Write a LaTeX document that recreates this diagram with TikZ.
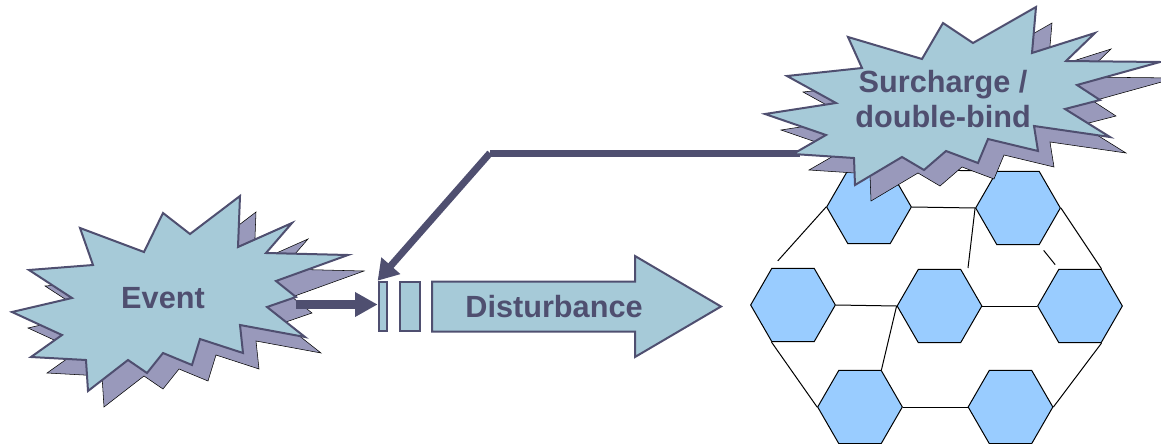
\documentclass[tikz,border=0pt]{standalone}
\usepackage{fontspec}
\setmainfont{Liberation Sans}
\usetikzlibrary{arrows.meta,shapes.geometric}
\definecolor{burstfill}{RGB}{166,202,216}
\definecolor{burstshade}{RGB}{153,153,187}
\definecolor{ink}{RGB}{79,79,112}
\definecolor{cellfill}{RGB}{153,204,255}

\begin{document}
\begin{tikzpicture}[x=0.75pt,y=-0.75pt]
\tikzstyle{cell}=[regular polygon,regular polygon sides=6,draw=black,line width=0.75pt,fill=cellfill,minimum size=63.5pt,inner sep=0pt]
\tikzstyle{link}=[black,line width=0.75pt]
\tikzstyle{burst}=[draw=ink,line width=1.5pt,fill=burstfill,line join=miter]
\tikzstyle{burstshadow}=[fill=burstshade]
\tikzstyle{bar}=[rectangle,draw=ink,line width=1.5pt,fill=burstfill,minimum height=37.2pt,inner sep=0pt]
\tikzstyle{label}=[text=ink,font=\fontsize{23}{26.25}\selectfont\bfseries,align=center]
\tikzstyle{heavy}=[ink,line width=5.25pt]
\useasboundingbox (0,0) rectangle (1161,443);
% network of cells
\node [cell] (h1) at (869,207) {};
\node [cell] (h2) at (1018,208) {};
\node [cell] (h3) at (793,305) {};
\node [cell] (h4) at (939.5,306) {};
\node [cell] (h5) at (1080,306) {};
\node [cell] (h6) at (860,407) {};
\node [cell] (h7) at (1010.5,407) {};
\coordinate (n2) at (968,268);
\draw [link] (h1.east) -- (h2.west);
\draw [link] (h1.60) -- (h2.120);
\draw [link,shorten >=7pt] (h1.west) -- (h3.120);
\draw [link] (h2.west) -- (n2);
\draw [link,shorten <=5pt,shorten >=4pt] (h2.300) -- (h5.120);
\draw [link] (h2.east) -- (h5.60);
\draw [link] (h3.east) -- (h4.west);
\draw [link] (h4.east) -- (h5.west);
\draw [link] (h4.west) -- (h6.60);
\draw [link] (h3.240) -- (h6.west);
\draw [link] (h5.300) -- (h7.east);
\draw [link] (h6.east) -- (h7.west);
\draw [link] (h6.300) -- (h7.240);
% disturbance
\node [bar,minimum width=6.5pt] (bar1) at (383,306.5) {};
\node [bar,minimum width=15pt] (bar2) at (410,306.5) {};
\draw [burst] (432,281.5) -- (635,281.5) -- (635,256) -- (721,306.5) -- (635,357) -- (635,331.5) -- (432,331.5) -- cycle;
\node [label] (dist) at (554,307) {Disturbance};
\coordinate (scin) at (800,153);
\coordinate (bend) at (490,153);
\draw [heavy] (scin) -- (bend);
\draw [heavy,-{Triangle[length=15pt,width=18pt]}] (bend) -- (bar1.north west);
% event
\foreach \off/\sty in {16/burstshadow,0/burst}
  \draw [\sty,shift={(\off,\off)}] (240,196) -- (238,247) -- (292,223) -- (266,253) -- (348,255) -- (276,281) -- (296,297) -- (267,307) -- (305,337) -- (240,325) -- (243,353) -- (200,339) -- (192,365) -- (163,353) -- (147,373) -- (128,360) -- (88,391) -- (86,360) -- (31,357) -- (62,335) -- (12,312) -- (72,298) -- (29,270) -- (93,265) -- (80,228) -- (144,252) -- (163,213) -- (190,234) -- cycle;
\node [label] (event) at (163,298) {Event};
\coordinate (evout) at (296,304.5);
\draw [heavy,line width=6.2pt,-{Triangle[length=17pt,width=17.5pt]}] (evout) -- (evout -| bar1.west);
% surcharge
\foreach \off/\sty in {16/burstshadow,0/burst}
  \draw [\sty,shift={(\off,\off)}] (1036,7) -- (1032,53) -- (1095,33) -- (1066,61) -- (1160,62) -- (1077,85) -- (1100,100) -- (1065,109) -- (1110,137) -- (1034,126) -- (1038,151) -- (988,139) -- (978,163) -- (946,151) -- (924,170) -- (902,157) -- (855,185) -- (854,158) -- (793,154) -- (826,135) -- (765,114) -- (836,103) -- (787,76) -- (862,68) -- (848,37) -- (922,59) -- (943,23) -- (973,43) -- cycle;
\node [label] (surcharge) at (943,99) {Surcharge /\\double-bind};
\end{tikzpicture}
\end{document}
